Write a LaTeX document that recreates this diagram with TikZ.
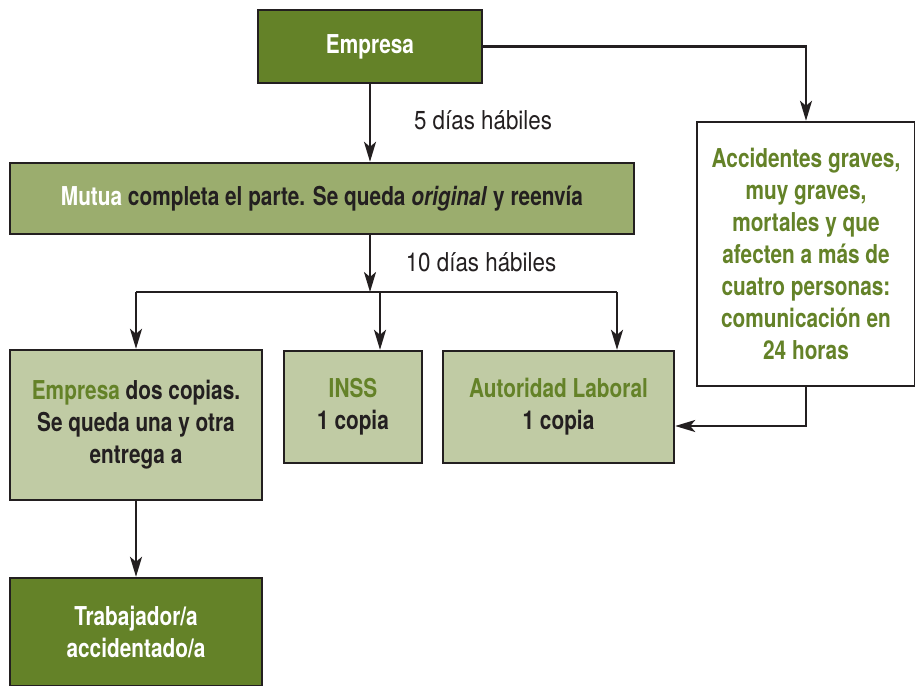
\documentclass[tikz,border=0pt]{standalone}
\usepackage{fontspec}
\setmainfont{TeX Gyre Heros}[FakeStretch=0.8]
\newfontfamily\daysfont{TeX Gyre Heros}[FakeStretch=0.86]
\usepackage{tikz}
\usetikzlibrary{
  arrows.meta,
  positioning,
}
\definecolor{leafdark}{RGB}{100, 130, 40}
\definecolor{leafmid}{RGB}{155, 173, 110}
\definecolor{leaflight}{RGB}{192, 203, 164}
\definecolor{inkline}{RGB}{35, 31, 32}
\tikzstyle{box} = [
  draw=inkline,
  line width=2.4pt,
  align=center,
  inner sep=0pt,
  font=\bfseries\fontsize{26}{32}\selectfont,
  text=inkline,
]
\tikzstyle{arrow} = [
  -{Stealth[length=20pt,width=12pt,inset=5pt]},
  line width=2.4pt,
  inkline,
]
\tikzstyle{days} = [
  font=\daysfont\fontsize{26}{32}\selectfont,
  text=inkline,
]

\begin{document}
\begin{tikzpicture}[x=1pt, y=-1pt]

        \useasboundingbox (0,0) rectangle (915,685);

        % boxes
        \node [box, fill=leafdark, text=white, minimum width=224pt, minimum height=73pt]
              (empresa) at (370, 46.5) {Empresa};

        \node [box, fill=leafmid, minimum width=624pt, minimum height=71pt]
              (mutua) at (322, 198.5)
              {\textcolor{white}{Mutua} completa el parte. Se queda \textit{original} y reenvía};

        \node [box, fill=white, text=leafdark, minimum width=218pt, minimum height=264pt]
              (graves) at (806, 254)
              {Accidentes graves,\\ muy graves,\\ mortales y que\\ afecten a más de\\
               cuatro personas:\\ comunicación en\\ 24 horas};

        \node [box, fill=leaflight, minimum width=252pt, minimum height=150pt]
              (copias) at (136, 425)
              {\textcolor{leafdark}{Empresa} dos copias.\\ Se queda una y otra\\ entrega a};

        \node [box, fill=leaflight, minimum width=138pt, minimum height=112pt]
              (inss) at (353, 407)
              {\textcolor{leafdark}{INSS}\\ 1 copia};

        \node [box, fill=leaflight, minimum width=231pt, minimum height=112pt]
              (autoridad) at (558.5, 407)
              {\textcolor{leafdark}{Autoridad Laboral}\\ 1 copia};

        \node [box, fill=leafdark, text=white, minimum width=252pt, minimum height=108pt]
              (trabajador) at (136, 632)
              {Trabajador/a\\ accidentado/a};

        % labels
        \node [days] (cinco) at (483, 120) {5 días hábiles};
        \node [days] (diez) at (481, 262) {10 días hábiles};

        % connectors
        \coordinate (fork) at (370, 292);
        \coordinate (forkinss) at (380, 292);
        \coordinate (forkaut) at (617, 292);
        \coordinate (turn) at (806, 426);

        \draw [arrow] (empresa.south) -- (empresa.south |- mutua.north);
        \draw [arrow] (empresa.east) -| (graves.north);
        \draw [arrow] (mutua.south -| fork) -- (fork);
        \draw [line width=2.4pt, inkline] (fork -| copias) -- (forkaut);
        \draw [arrow] (fork -| copias) -- (copias.north);
        \draw [arrow] (forkinss) -- (forkinss |- inss.north);
        \draw [arrow] (forkaut) -- (forkaut |- autoridad.north);
        \draw [arrow] (graves.south) -- (turn) -- (turn -| autoridad.east);
        \draw [arrow] (copias.south) -- (trabajador.north);
      \end{tikzpicture}
\end{document}
